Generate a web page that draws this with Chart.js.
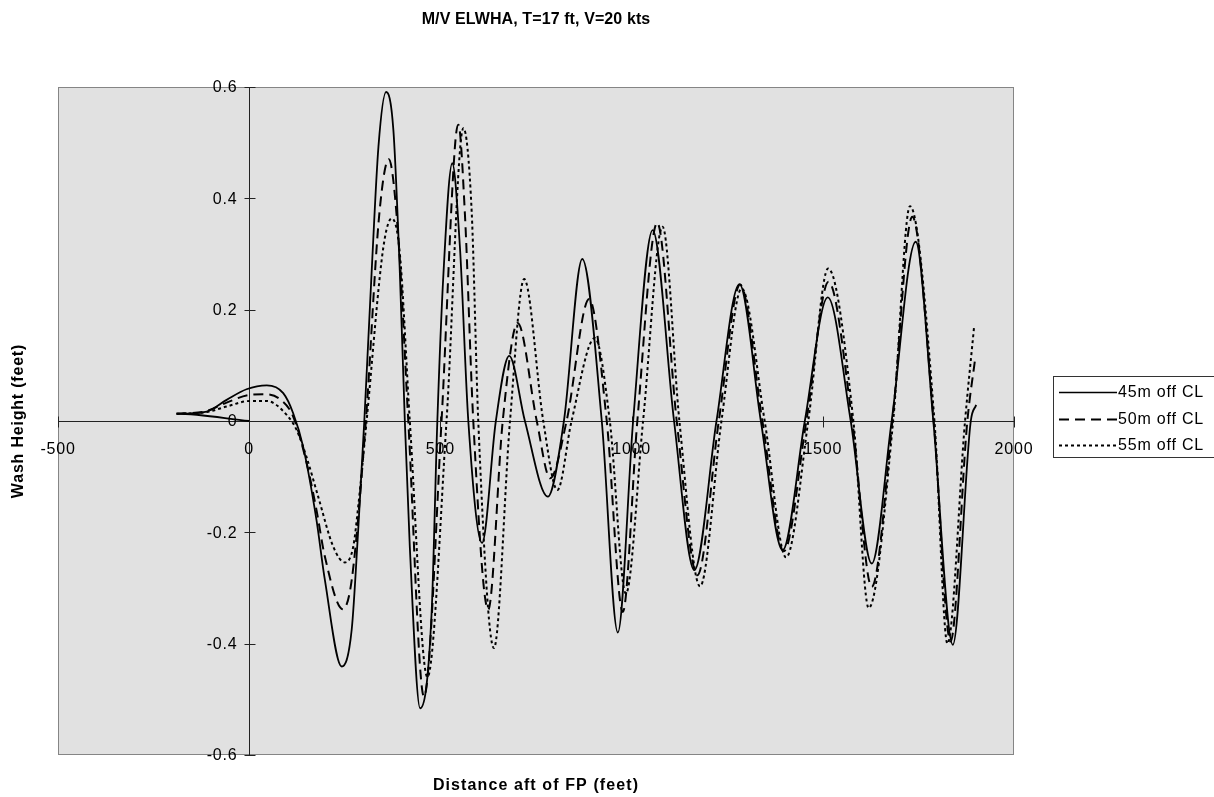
<!DOCTYPE html>
<html>
<head>
<meta charset="utf-8">
<title>M/V ELWHA wash</title>
<script src="https://cdn.jsdelivr.net/npm/chart.js@4.4.1/dist/chart.umd.min.js"></script>
<style>
  html, body { margin: 0; padding: 0; background: #ffffff; }
  #wash { display: block; }
</style>
</head>
<body>
<canvas id="wash" width="1214" height="797"></canvas>
<script>
// ---------- DATA ----------
const chartTitle = "M/V ELWHA, T=17 ft, V=20 kts";
const xTitle = "Distance aft of FP (feet)";
const yTitle = "Wash Height (feet)";
const seriesLabels = ["45m off CL", "50m off CL", "55m off CL"];

const xTicks = [-500, 0, 500, 1000, 1500, 2000];
const yTicks = [-0.6, -0.4, -0.2, 0, 0.2, 0.4, 0.6];

// 45m off CL (solid) - first point is the stray segment back to the origin
const x45 = [0, -190, -111, -59, -7, 46, 89, 115, 141, 176, 198, 242, 268, 285, 301, 320, 338, 358, 377, 394,
  407, 420, 447, 477, 492, 508, 531, 551, 573, 609, 645, 680, 721, 781, 823, 871, 922, 964, 1004, 1055,
  1111, 1164, 1222, 1282, 1338, 1395, 1453, 1513, 1573, 1628, 1680, 1743, 1789, 1840, 1887, 1901];
const y45 = [0, 0.013, 0.017, 0.038, 0.057, 0.064, 0.05, 0.014, -0.046, -0.178, -0.286, -0.441, -0.375, -0.196, 0, 0.265, 0.493, 0.591, 0.523, 0.266,
  0, -0.226, -0.516, -0.345, 0, 0.265, 0.463, 0.313, 0, -0.219, 0, 0.117, 0, -0.136, 0, 0.291, 0, -0.38, 0, 0.343,
  0, -0.268, 0, 0.246, 0, -0.232, 0, 0.222, 0, -0.256, 0, 0.322, 0, -0.402, 0, 0.029];

// 50m off CL (dashed)
const x50 = [-190, -111, -59, 2, 37, 81, 115, 150, 176, 198, 245, 268, 305, 340, 365, 390, 416, 457, 503, 538, 547, 564, 586,
  625, 663, 702, 752, 787, 830, 889, 935, 977, 1015, 1067, 1118, 1172, 1228, 1284, 1342, 1398, 1457, 1515,
  1577, 1628, 1682, 1734, 1790, 1834, 1878, 1898];
const y50 = [0.013, 0.018, 0.033, 0.047, 0.048, 0.039, 0.008, -0.075, -0.16, -0.244, -0.338, -0.286, 0, 0.37, 0.47, 0.33, 0, -0.495, 0, 0.493, 0.532, 0.373, 0,
  -0.339, 0, 0.176, 0, -0.103, 0, 0.219, 0, -0.343, 0, 0.356, 0, -0.277, 0, 0.245, 0, -0.234, 0, 0.25,
  0, -0.298, 0, 0.367, 0, -0.396, 0, 0.11];

// 55m off CL (dotted)
const x55 = [-190, -111, -59, 2, 46, 98, 124, 150, 180, 220, 250, 272, 285, 307, 351, 373, 394, 420, 466, 516, 560, 582, 599,
  640, 682, 719, 769, 806, 843, 904, 943, 985, 1030, 1081, 1125, 1179, 1235, 1288, 1348, 1404, 1462, 1514,
  1580, 1620, 1684, 1728, 1792, 1826, 1872, 1896];
const y55 = [0.013, 0.016, 0.026, 0.036, 0.036, 0.011, -0.016, -0.065, -0.135, -0.226, -0.254, -0.226, -0.154, 0, 0.313, 0.364, 0.3, 0, -0.46, 0, 0.526, 0.373, 0,
  -0.408, 0, 0.255, 0, -0.124, 0, 0.149, 0, -0.31, 0, 0.349, 0, -0.297, 0, 0.238, 0, -0.245, 0, 0.274,
  0, -0.336, 0, 0.386, 0, -0.4, 0, 0.172];

const seriesDash = [[], [10, 6], [3, 3]];

// ---------- helpers ----------
function pairUp(xs, ys) {
  return xs.map((v, i) => ({ x: v, y: ys[i] }));
}

const FONT = "'Liberation Sans', Arial, sans-serif";

function setSpacing(ctx, px) {
  if ("letterSpacing" in ctx) ctx.letterSpacing = px + "px";
}

// draws the Excel-style plot area, axes crossing at zero, labels, titles and legend
const excelLook = {
  id: "excelLook",
  beforeDatasetsDraw(chart) {
    const { ctx, chartArea: a, scales } = chart;
    const sx = scales.x, sy = scales.y;
    ctx.save();

    // plot area
    ctx.fillStyle = "#e1e1e1";
    ctx.fillRect(a.left, a.top, a.right - a.left, a.bottom - a.top);
    ctx.strokeStyle = "#858585";
    ctx.lineWidth = 1;
    ctx.strokeRect(a.left + 0.5, a.top + 0.5, a.right - a.left - 1, a.bottom - a.top - 1);

    const x0 = Math.round(sx.getPixelForValue(0)) + 0.5;
    const y0 = Math.round(sy.getPixelForValue(0)) + 0.5;

    // axis lines
    ctx.strokeStyle = "#222";
    ctx.beginPath();
    ctx.moveTo(a.left, y0); ctx.lineTo(a.right, y0);
    ctx.moveTo(x0, a.top); ctx.lineTo(x0, a.bottom);
    ctx.stroke();

    // tick marks (cross style)
    ctx.beginPath();
    xTicks.forEach(v => {
      const px = Math.round(sx.getPixelForValue(v)) + 0.5;
      ctx.moveTo(px, y0 - 5); ctx.lineTo(px, y0 + 6);
    });
    yTicks.forEach(v => {
      const py = Math.round(sy.getPixelForValue(v)) + 0.5;
      ctx.moveTo(x0 - 5, py); ctx.lineTo(x0 + 6, py);
    });
    ctx.stroke();

    // tick labels
    ctx.fillStyle = "#000";
    ctx.font = "16px " + FONT;
    setSpacing(ctx, 0.8);
    ctx.textAlign = "center";
    ctx.textBaseline = "middle";
    xTicks.forEach(v => {
      ctx.fillText(String(v), sx.getPixelForValue(v), y0 + 28);
    });
    ctx.textAlign = "right";
    yTicks.forEach(v => {
      const txt = v === 0 ? "0" : v.toFixed(1);
      ctx.fillText(txt, x0 - 12, sy.getPixelForValue(v) + 1);
    });

    ctx.restore();
  },
  afterDraw(chart) {
    const { ctx, chartArea: a } = chart;
    const cx = (a.left + a.right) / 2;
    ctx.save();
    ctx.fillStyle = "#000";
    ctx.textAlign = "center";
    ctx.textBaseline = "middle";

    // titles
    ctx.font = "bold 16px " + FONT;
    setSpacing(ctx, 0.1);
    ctx.fillText(chartTitle, cx, 20);
    setSpacing(ctx, 1.1);
    ctx.fillText(xTitle, cx, 786);
    ctx.save();
    setSpacing(ctx, 0.8);
    ctx.translate(19, (a.top + a.bottom) / 2);
    ctx.rotate(-Math.PI / 2);
    ctx.fillText(yTitle, 0, 0);
    ctx.restore();

    // legend
    const lx = 1053, ly = 376, lw = 170, lh = 81;
    ctx.fillStyle = "#ffffff";
    ctx.fillRect(lx, ly, lw, lh);
    ctx.strokeStyle = "#333";
    ctx.lineWidth = 1;
    ctx.strokeRect(lx + 0.5, ly + 0.5, lw, lh);
    ctx.font = "16px " + FONT;
    setSpacing(ctx, 0.8);
    ctx.textAlign = "left";
    ctx.fillStyle = "#000";
    seriesLabels.forEach((lab, i) => {
      const yy = ly + 16 + i * 26.5;
      ctx.strokeStyle = "#000";
      ctx.lineWidth = i === 0 ? 1.6 : 2;
      ctx.setLineDash(seriesDash[i]);
      ctx.beginPath();
      ctx.moveTo(lx + 6, Math.round(yy) + 0.5);
      ctx.lineTo(lx + 64, Math.round(yy) + 0.5);
      ctx.stroke();
      ctx.setLineDash([]);
      ctx.fillText(lab, lx + 65, yy + 1);
    });
    ctx.restore();
  }
};

const datasets = [pairUp(x45, y45), pairUp(x50, y50), pairUp(x55, y55)].map((pts, i) => ({
  label: seriesLabels[i],
  data: pts,
  showLine: true,
  borderColor: "#000",
  borderWidth: i === 0 ? 1.8 : 2,
  borderDash: seriesDash[i],
  pointRadius: 0,
  fill: false,
  cubicInterpolationMode: "monotone"
}));

const canvas = document.getElementById("wash");

const config = {
  type: "scatter",
  data: { datasets: datasets },
  options: {
    responsive: false,
    animation: false,
    devicePixelRatio: 1,
    layout: { padding: { left: 58, right: 200, top: 87, bottom: 42 } },
    scales: {
      x: { type: "linear", min: -500, max: 2000, display: false },
      y: { type: "linear", min: -0.6, max: 0.6, display: false }
    },
    plugins: {
      legend: { display: false },
      title: { display: false },
      tooltip: { enabled: false }
    }
  },
  plugins: [excelLook]
};

try {
  new Chart(canvas, config);
} catch (err) {
  console.error("Error creating Chart:", err);
}
</script>
</body>
</html>
